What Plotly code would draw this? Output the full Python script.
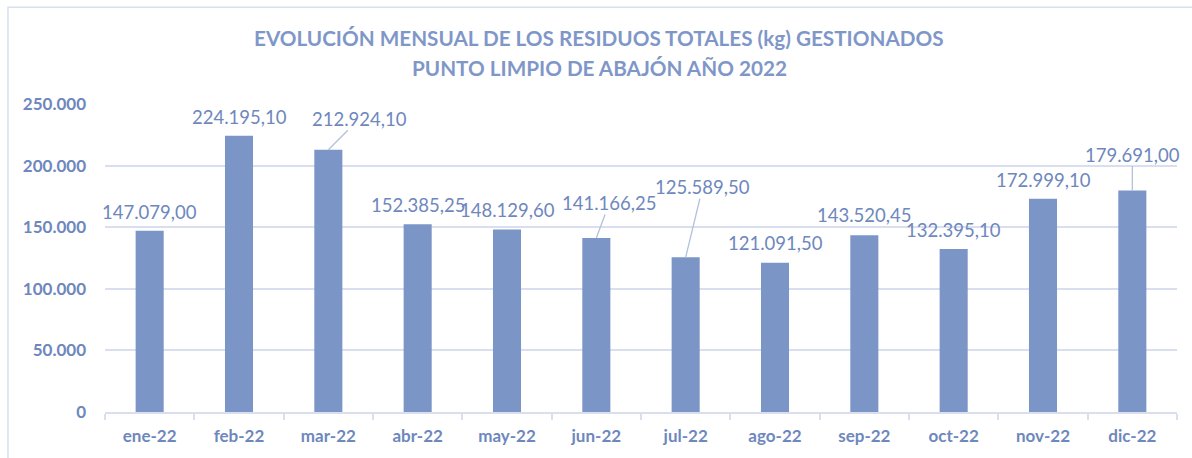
import plotly.graph_objects as go

months = ["ene-22", "feb-22", "mar-22", "abr-22", "may-22", "jun-22",
          "jul-22", "ago-22", "sep-22", "oct-22", "nov-22", "dic-22"]
residuos_kg = [147079.00, 224195.10, 212924.10, 152385.25, 148129.60, 141166.25,
               125589.50, 121091.50, 143520.45, 132395.10, 172999.10, 179691.00]
y_ticks = [0, 50000, 100000, 150000, 200000, 250000]
title_lines = ["EVOLUCIÓN MENSUAL DE LOS RESIDUOS TOTALES (kg) GESTIONADOS",
               "PUNTO LIMPIO DE ABAJÓN AÑO 2022"]

# label offsets in pixels (dx, dy of text centre relative to bar top), leader flag
label_dx = [0, 0, 31, 0, 0, 13, 17, 0, 0, 0, 0, 0]
label_dy = [-19, -19, -31, -19, -20, -35, -70, -20, -20, -19, -19, -36]
leader = [False, False, True, False, False, True, True, False, False, False, False, True]
title_y = [1.214, 1.117]

BAR = "#7b95c6"
TXT = "#6e87bd"
TITLE = "#7f97c8"
GRID = "#d9dfee"
FONT = "Lato"


def es_fmt(v):
    s = f"{v:,.2f}"
    return s.replace(",", "X").replace(".", ",").replace("X", ".")


fig = go.Figure()
fig.add_trace(go.Bar(x=months, y=residuos_kg, marker=dict(color=BAR, line=dict(width=0)),
                     hoverinfo="x+y"))

for m, v, dx, dy, ld in zip(months, residuos_kg, label_dx, label_dy, leader):
    if ld:
        fig.add_annotation(x=m, y=v, text=es_fmt(v), showarrow=True, arrowhead=0,
                           arrowwidth=1.3, arrowcolor="#b3c1dd", ax=dx, ay=dy,
                           standoff=0, borderpad=0,
                           font=dict(family=FONT, size=18.5, color=TXT))
    else:
        fig.add_annotation(x=m, y=v, text=es_fmt(v), showarrow=False, xshift=dx,
                           yshift=-dy, yanchor="middle",
                           font=dict(family=FONT, size=18.5, color=TXT))

for line, ty in zip(title_lines, title_y):
    fig.add_annotation(xref="paper", yref="paper", x=0.461, y=ty, text=line,
                       showarrow=False, xanchor="center", yanchor="middle",
                       font=dict(family=FONT, size=20.7, color=TITLE, weight="bold"))

fig.add_shape(type="rect", xref="paper", yref="paper", x0=-0.0905, x1=1.2,
              y0=-0.3, y1=1.314, line=dict(color=GRID, width=1.5), layer="below")

fig.update_layout(
    width=1192, height=458, autosize=False,
    margin=dict(l=105, r=15, t=104, b=46),
    paper_bgcolor="white", plot_bgcolor="white",
    separators=",.",
    bargap=0.686,
    showlegend=False,
    font=dict(family=FONT, color=TXT),
)
fig.update_xaxes(range=[-0.5, 11.5], autorange=False,
                 showgrid=False, showline=True, linecolor=GRID, linewidth=1.5,
                 ticks="outside", tickson="boundaries", ticklen=6, tickcolor=GRID,
                 tickwidth=1.5, ticklabelstandoff=8, automargin=False,
                 tickfont=dict(family=FONT, size=17, color=TXT, weight="bold"))
fig.update_yaxes(range=[0, 250000], tickvals=y_ticks, tickformat=",d",
                 showgrid=True, gridcolor=GRID, gridwidth=1.5, zeroline=False,
                 showline=False, ticks="", ticklabelstandoff=18, automargin=False,
                 tickfont=dict(family=FONT, size=17, color=TXT, weight="bold"))

fig.write_html("out.html", config={"displayModeBar": False, "responsive": False},
               post_script="document.body.style.margin='0';")
